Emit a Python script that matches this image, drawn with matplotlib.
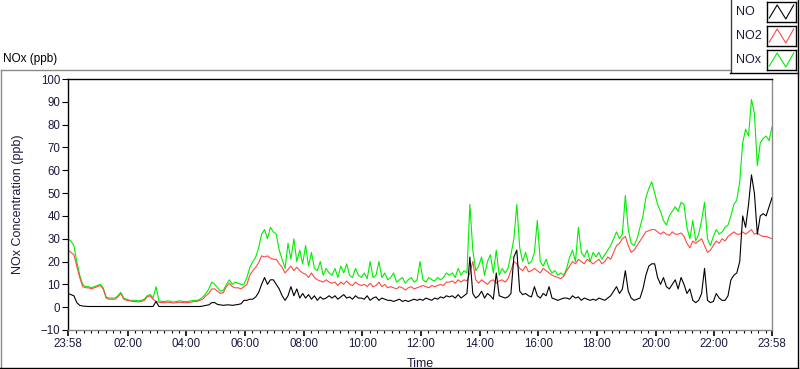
import numpy as np
import matplotlib
matplotlib.use("Agg")
import matplotlib.pyplot as plt
from matplotlib.lines import Line2D

# readings every 6 minutes starting at 23:58, one row per hour
no = [
    6, 5.5, 5, 2, 0.8, 0.5, 0.4, 0.3, 0.3, 0.3,
    0.3, 0.3, 0.3, 0.3, 0.3, 0.3, 0.3, 0.3, 0.3, 0.3,
    0.3, 0.3, 0.3, 0.3, 0.3, 0.3, 0.3, 0.3, 0.3, 0.3,
    2.5, 0.3, 0.3, 0.3, 0.3, 0.3, 0.3, 0.3, 0.3, 0.3,
    0.3, 0.3, 0.3, 0.3, 0.3, 0.3, 0.5, 0.8, 1, 2,
    2, 1.2, 1, 0.8, 1, 1, 0.8, 1, 1.2, 1.5,
    3, 3, 3.5, 3.5, 4.5, 6.5, 10, 13, 10, 12,
    12, 10, 8, 5, 3, 5, 9, 5, 8, 4,
    6, 4, 5.5, 3.5, 5, 3, 4.5, 3.5, 4, 5,
    4, 5, 3.5, 4.5, 5.5, 4, 4.5, 3.5, 5, 4,
    4, 3.5, 5, 3, 4, 4.5, 3, 4, 3.5, 3,
    3, 2.5, 3, 3.5, 2.5, 3, 2.5, 3, 3.5, 3,
    3.5, 3, 4, 3.5, 3, 4, 3.5, 4.5, 4, 5,
    4.5, 5, 4, 5.5, 4, 5, 6, 22, 6, 4,
    5, 7, 4, 6, 5, 3.5, 15, 5, 4.5, 4,
    4.5, 6, 22, 25, 7, 5.5, 6, 5, 4.5, 9,
    5, 4, 6, 5, 9, 4, 3.5, 3, 3.5, 4,
    4, 3.5, 5, 4, 4.5, 3, 4, 3.5, 3, 3.5,
    3, 4, 3.5, 3, 4, 5, 7, 9, 6, 8,
    16, 7, 4, 3, 3.5, 4, 8, 14, 18, 19,
    19, 13, 10, 13, 9, 8, 10, 12, 8, 13,
    10, 6, 8, 3, 2, 3, 6, 17, 3, 2,
    2.5, 6, 4, 3, 3, 5, 12, 14, 15, 20,
    40, 35, 45, 58, 50, 32, 40, 41, 40, 44,
    48,
]
no2 = [
    25, 24, 23, 18, 13, 9, 8.5, 8.5, 8, 8.5,
    9, 9.5, 8, 4, 3.5, 3.5, 3.5, 4.5, 6, 3.5,
    3, 2.8, 2.5, 2.5, 2.3, 2.5, 3, 4.5, 5, 3.5,
    2.5, 2.2, 2, 2, 2.2, 2, 1.8, 2, 2.2, 2,
    2, 2, 2.2, 2.5, 2.5, 3, 3.5, 5, 6, 8,
    8, 7, 6, 6.5, 9, 10.5, 9, 8.5, 8.5, 8,
    9, 10, 14, 16, 17.5, 19.5, 22.5, 22, 22.5, 21.5,
    21, 21, 19, 17.5, 15, 16.5, 18, 16, 17.5, 16,
    15, 14.5, 13, 15, 13, 12, 11.5, 11, 12, 11,
    10.5, 11, 9.5, 11, 10, 11.5, 10, 9.5, 11, 10,
    9.5, 10, 9, 10.5, 9, 9.5, 11, 9, 10, 8.5,
    9, 8.5, 8, 9, 8.5, 7.5, 8.5, 9, 8, 8.5,
    9, 9.5, 9, 8.5, 9.5, 9, 9.5, 10, 9.5, 11,
    11, 11.5, 10.5, 12, 11, 12, 11.5, 15, 20, 12,
    10.5, 12, 11, 10, 11.5, 12, 10.5, 11.5, 12, 11,
    12.5, 16, 20, 19, 17, 16, 18, 15.5, 16, 17,
    16, 15, 17, 16, 15, 14, 13.5, 13, 12.5, 13.5,
    16, 18, 20, 19, 21, 20, 19, 21, 20, 19,
    20, 21, 19, 20, 22, 21, 24, 27, 28, 30,
    31, 27, 24, 25, 27, 29, 31, 33, 33.5, 34,
    34, 33, 32, 33, 32, 31.5, 33, 32, 32, 32.5,
    31, 28, 26, 29, 28, 29, 30, 27, 24, 25,
    27, 29, 28, 30, 29, 31, 32, 33, 32, 32,
    33, 32, 33, 34, 32, 32.5, 31.5, 31, 31, 30.5,
    30,
]
nox = [
    30, 29, 27, 20, 14, 10, 9, 9, 8.5, 9,
    9.5, 10, 8.5, 4.5, 4, 4, 4, 5, 6.5, 4,
    3.5, 3, 3, 3, 2.8, 3, 3.5, 5, 5.5, 4,
    9, 2.8, 2.5, 2.5, 2.8, 2.5, 2.2, 2.5, 2.8, 2.5,
    2.5, 2.5, 2.8, 3, 3, 3.5, 4.5, 6, 8, 11,
    10, 8.5, 7, 7.5, 10, 12, 10, 11, 10.5, 10,
    10, 13, 17.5, 20, 22, 26, 32, 34, 30, 35,
    33, 32, 25, 21, 17, 28, 21, 30, 20, 25,
    19, 27, 18, 24, 17, 16, 20, 14, 17, 15,
    14, 17, 13, 18, 15, 19, 14, 13, 17, 14,
    13, 15, 12.5, 20, 13, 14, 20, 13, 15, 12,
    13, 15, 11, 12, 13, 10.5, 12, 13, 11, 12,
    20, 12, 11, 13, 12, 11.5, 13, 12, 13, 15,
    14, 15, 13, 17, 14, 16, 15, 45, 25, 16,
    18, 22, 14, 20, 23, 15, 25, 14, 17, 15,
    17, 23, 30, 45, 26, 20, 24, 19, 20, 24,
    38, 20, 18, 21, 17, 15, 16, 14, 15, 14,
    17, 22, 25, 20, 35, 24, 22, 25, 20, 24,
    22, 24, 21, 23, 25, 27, 30, 33, 30, 32,
    49, 34, 28, 27, 30, 35, 40, 48, 52, 55,
    50, 45, 42, 38, 36, 40, 42, 44, 42, 46,
    45, 35, 30, 38, 29, 32, 38, 46, 30, 27,
    31, 34, 32, 33, 35, 36, 40, 45, 47, 55,
    72, 78, 75, 91, 85, 62, 72, 74, 75, 73,
    79,
]
tick_labels = ["23:58", "02:00", "04:00", "06:00", "08:00", "10:00", "12:00",
               "14:00", "16:00", "18:00", "20:00", "22:00", "23:58"]

t = np.arange(len(no)) * 6  # minutes since 23:58

W, H = 800, 369
fig = plt.figure(figsize=(W / 100, H / 100), dpi=100)
fig.patch.set_facecolor("white")

def px(x, y):
    return x / W, 1 - y / H

x0, y0 = px(68, 330)
x1, y1 = px(772, 79)
ax = fig.add_axes([x0, y0, x1 - x0, y1 - y0])

txt = "#1a1a40"
font = "Liberation Sans"

ax.plot(t, nox, color="#00ee00", lw=0.8, zorder=1)
ax.plot(t, no2, color="#ff4848", lw=0.8, zorder=2)
ax.plot(t, no, color="black", lw=0.8, zorder=3)

ax.set_xlim(0, 1440)
ax.set_ylim(-10, 100)

major = [0] + [h * 60 + 2 for h in range(2, 24, 2)] + [1440]
minor = [q * 15 + 2 for q in range(1, 96) if (q * 15) % 120 != 0]
ax.set_xticks(major)
ax.set_xticklabels(tick_labels)
ax.set_xticks(minor, minor=True)
ax.set_yticks(range(-10, 101, 10))

ax.tick_params(axis="both", which="major", length=4, width=0.8, color="black",
               labelsize=8.3, labelcolor=txt, pad=1.5)
ax.tick_params(axis="x", which="minor", length=2.5, width=0.8, color="black")
ax.tick_params(axis="x", which="major", width=1.2)
for lab in ax.get_xticklabels() + ax.get_yticklabels():
    lab.set_fontfamily(font)

for s in ["top", "left"]:
    ax.spines[s].set_color("black")
    ax.spines[s].set_linewidth(1.0)
for s in ["right", "bottom"]:
    ax.spines[s].set_color("#8a8a8a")
    ax.spines[s].set_linewidth(1.0)

ax.set_ylabel("NOx Concentration (ppb)", fontsize=9, color=txt, family=font)
ax.yaxis.set_label_coords(-0.063, 0.5)
ax.set_xlabel("Time", fontsize=9, color=txt, family=font)
ax.xaxis.set_label_coords(0.5, -0.11)

# outer panel frame
def fline(xa, ya, xb, yb, c):
    (fa, ga), (fb, gb) = px(xa, ya), px(xb, yb)
    fig.add_artist(Line2D([fa, fb], [ga, gb], color=c, lw=1.0,
                          transform=fig.transFigure))

fline(0.5, 69.5, 730, 69.5, "#8a8a8a")
fline(0.5, 69.5, 0.5, 367, "#8a8a8a")
fline(0, 367.5, 798, 367.5, "black")
fline(797.5, 0, 797.5, 368, "black")
fline(730.5, 0, 730.5, 72, "#404040")
fline(730, 72.5, 798, 72.5, "black")

tx, ty = px(3, 59)
fig.text(tx, ty, "NOx (ppb)", fontsize=8.5, color="black", family=font,
         va="center", ha="left")

# legend
names = ["NO", "NO2", "NOx"]
colors = ["black", "#ff4848", "#00ee00"]
for i, (n, c) in enumerate(zip(names, colors)):
    yc = 12 + i * 24
    lx, ly = px(736, yc)
    fig.text(lx, ly, n, fontsize=9, color=txt, family=font, va="center", ha="left")
    bx0, by0 = px(767, yc + 10)
    bx1, by1 = px(796, yc - 10)
    sw = fig.add_axes([bx0, by0, bx1 - bx0, by1 - by0])
    sw.plot([0.08, 0.35, 0.65, 0.92], [0.2, 0.85, 0.15, 0.85], color=c, lw=0.8)
    sw.set_xlim(0, 1)
    sw.set_ylim(0, 1)
    sw.set_xticks([])
    sw.set_yticks([])
    for s in sw.spines.values():
        s.set_color("black")
        s.set_linewidth(1.0)

fig.savefig("out.png", dpi=100)
